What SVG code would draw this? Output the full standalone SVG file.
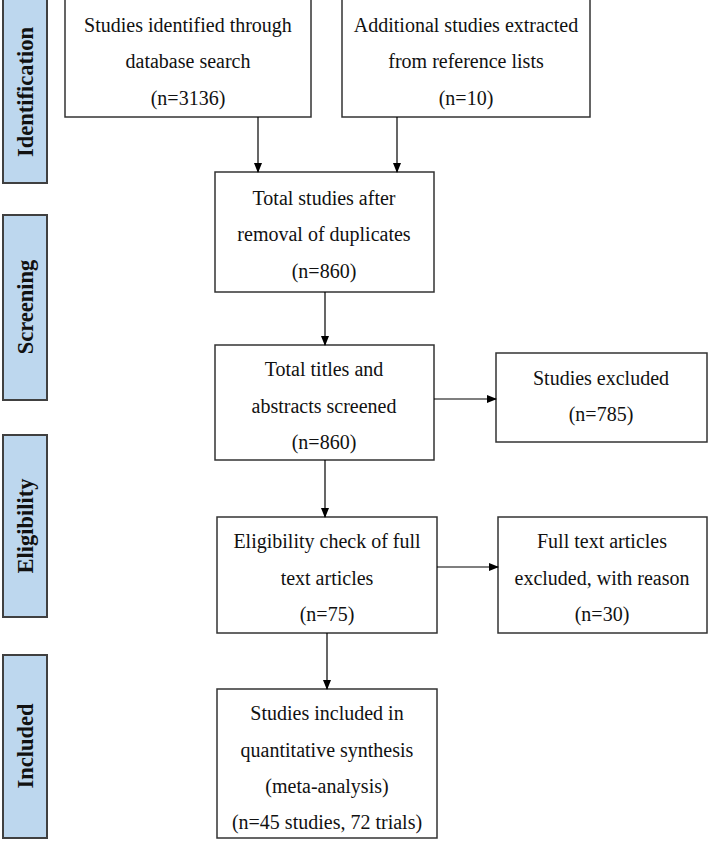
<svg xmlns="http://www.w3.org/2000/svg" width="708" height="848" viewBox="0 0 708 848">
<defs>
<marker id="ah" markerWidth="10" markerHeight="10" refX="9" refY="5" orient="auto" markerUnits="userSpaceOnUse"><path d="M0,1 L10,5 L0,9 Z" fill="#000"/></marker>
</defs>
<style>
.box{fill:#fff;stroke:#333;stroke-width:1.5}
.side{fill:#bdd7ee;stroke:#404040;stroke-width:2}
text{font-family:"Liberation Serif","Times New Roman",serif;font-size:20px;fill:#111;text-anchor:middle}
.lab{font-weight:bold;font-size:22.5px}
.c{stroke:#000;stroke-width:1.2;fill:none;marker-end:url(#ah)}
</style>
<rect width="708" height="848" fill="#fff"/>
<g id="sidebars">
<rect class="side" x="3" y="-2" width="44" height="185"/>
<text class="lab" transform="translate(33,92) rotate(-90)">Identification</text>
<rect class="side" x="3" y="215" width="44" height="185"/>
<text class="lab" transform="translate(33,307) rotate(-90)">Screening</text>
<rect class="side" x="3" y="435" width="44" height="182"/>
<text class="lab" transform="translate(33,526) rotate(-90)">Eligibility</text>
<rect class="side" x="3" y="655" width="44" height="183"/>
<text class="lab" transform="translate(33,746) rotate(-90)">Included</text>
</g>
<g id="n1"><rect class="box" x="65" y="-2" width="246" height="119"/>
<text x="188" y="32">Studies identified through</text><text x="188" y="68">database search</text><text x="188" y="105">(n=3136)</text></g>
<g id="n2"><rect class="box" x="342" y="-2" width="248" height="119"/>
<text x="466" y="32">Additional studies extracted</text><text x="466" y="68">from reference lists</text><text x="466" y="105">(n=10)</text></g>
<g id="n3"><rect class="box" x="215" y="172" width="219" height="120"/>
<text x="324" y="205">Total studies after</text><text x="324" y="241">removal of duplicates</text><text x="324" y="278">(n=860)</text></g>
<g id="n4"><rect class="box" x="215" y="345" width="219" height="115"/>
<text x="324" y="376">Total titles and</text><text x="324" y="413">abstracts screened</text><text x="324" y="449">(n=860)</text></g>
<g id="n5"><rect class="box" x="496" y="353" width="211" height="89"/>
<text x="601" y="385">Studies excluded</text><text x="601" y="421">(n=785)</text></g>
<g id="n6"><rect class="box" x="217" y="517" width="220" height="116"/>
<text x="327" y="548">Eligibility check of full</text><text x="327" y="585">text articles</text><text x="327" y="621">(n=75)</text></g>
<g id="n7"><rect class="box" x="498" y="517" width="209" height="116"/>
<text x="602" y="548">Full text articles</text><text x="602" y="585">excluded, with reason</text><text x="602" y="621">(n=30)</text></g>
<g id="n8"><rect class="box" x="217" y="689" width="220" height="149"/>
<text x="327" y="720">Studies included in</text><text x="327" y="757">quantitative synthesis</text><text x="327" y="793">(meta-analysis)</text><text x="327" y="829">(n=45 studies, 72 trials)</text></g>
<g id="connectors">
<line class="c" x1="258" y1="117" x2="258" y2="172"/>
<line class="c" x1="397" y1="117" x2="397" y2="172"/>
<line class="c" x1="325" y1="292" x2="325" y2="345"/>
<line class="c" x1="325" y1="460" x2="325" y2="517"/>
<line class="c" x1="327" y1="633" x2="327" y2="689"/>
<line class="c" x1="434" y1="399" x2="496" y2="399"/>
<line class="c" x1="437" y1="567" x2="498" y2="567"/>
</g>
</svg>
